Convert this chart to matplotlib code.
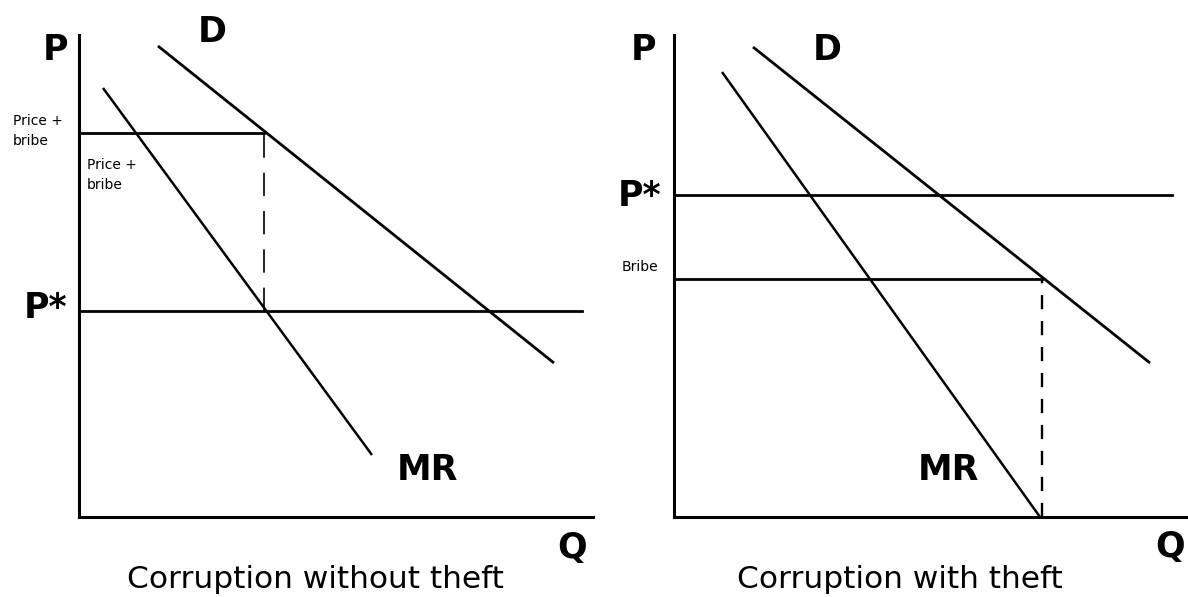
import matplotlib
matplotlib.use("Agg")
import matplotlib.pyplot as plt

W, H = 1188, 597

# left panel: "Corruption without theft" (units = axis pixels from origin)
left_D = ([79, 475], [471, 154])
left_MR = ([24, 293], [429, 62])
left_pstar = 206
left_bribe_price = 384
left_q = 185

# right panel: "Corruption with theft"
right_D = ([79, 476], [470, 154])
right_MR = ([48, 366], [445, 0])
right_pstar = 322
right_bribe = 238
right_q = 368

titles = ["Corruption without theft", "Corruption with theft"]

fig = plt.figure(figsize=(W / 100, H / 100), dpi=100)
fig.patch.set_facecolor("white")


def make_axes(x0, y0, x1, y1):
    # pixel box -> figure fractions
    ax = fig.add_axes([x0 / W, 1 - y1 / H, (x1 - x0) / W, (y1 - y0) / H])
    ax.set_xlim(0, x1 - x0)
    ax.set_ylim(0, y1 - y0)
    for s in ["top", "right"]:
        ax.spines[s].set_visible(False)
    for s in ["left", "bottom"]:
        ax.spines[s].set_linewidth(2.2)
        ax.spines[s].set_color("black")
    ax.set_xticks([])
    ax.set_yticks([])
    ax.patch.set_alpha(0)
    return ax


big = dict(fontsize=25, fontweight="bold", family="DejaVu Sans", clip_on=False)
small = dict(fontsize=10, family="DejaVu Sans", clip_on=False)
ttl = dict(fontsize=22.5, family="DejaVu Sans", ha="center", va="center")

# ---- left
ax1 = make_axes(79, 35, 593, 517)
ax1.plot(*left_D, color="black", lw=2.0, solid_capstyle="butt")
ax1.plot(*left_MR, color="black", lw=1.8, solid_capstyle="butt")
ax1.plot([0, 503], [left_pstar, left_pstar], color="black", lw=2.0)
ax1.plot([0, left_q], [left_bribe_price, left_bribe_price], color="black", lw=2.0)
ax1.plot([left_q, left_q], [left_pstar, left_bribe_price], color="black", lw=1.2,
         dashes=(14, 9))
ax1.text(-24, 467, "P", ha="center", va="center", **big)
ax1.text(133, 485, "D", ha="center", va="center", **big)
ax1.text(-33, left_pstar + 3, "P*", ha="center", va="center", **big)
ax1.text(348, 47, "MR", ha="center", va="center", **big)
ax1.text(493, -31, "Q", ha="center", va="center", **big)
ax1.text(-66, 386, "Price +\nbribe", ha="left", va="center", linespacing=1.5, **small)
ax1.text(8, 342, "Price +\nbribe", ha="left", va="center", linespacing=1.5, **small)

# ---- right
ax2 = make_axes(674, 35, 1188, 517)
ax2.plot(*right_D, color="black", lw=2.0, solid_capstyle="butt")
ax2.plot(*right_MR, color="black", lw=1.8, solid_capstyle="butt")
ax2.plot([0, 498], [right_pstar, right_pstar], color="black", lw=2.0)
ax2.plot([0, right_q], [right_bribe, right_bribe], color="black", lw=2.0)
ax2.plot([right_q, right_q], [0, right_bribe], color="black", lw=1.7,
         dashes=(6, 5))
ax2.text(-31, 467, "P", ha="center", va="center", **big)
ax2.text(153, 467, "D", ha="center", va="center", **big)
ax2.text(-34, right_pstar - 1, "P*", ha="center", va="center", **big)
ax2.text(274, 47, "MR", ha="center", va="center", **big)
ax2.text(496, -30, "Q", ha="center", va="center", **big)
ax2.text(-34, 250, "Bribe", ha="center", va="center", **small)

fig.text(315 / W, 1 - 580 / H, titles[0], **ttl)
fig.text(900 / W, 1 - 580 / H, titles[1], **ttl)

fig.savefig("out.png", dpi=100, facecolor="white")
